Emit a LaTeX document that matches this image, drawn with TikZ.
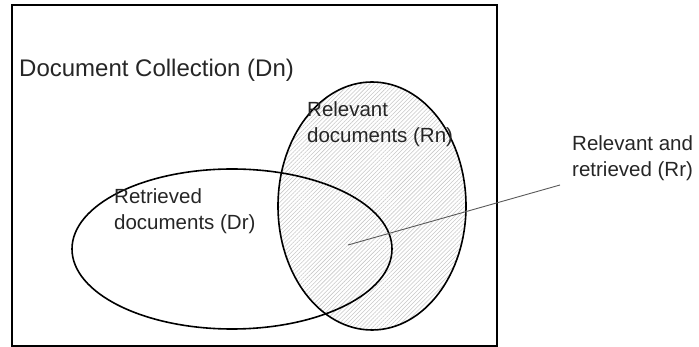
\documentclass[tikz,border=0pt]{standalone}
\usepackage{fontspec}
\setmainfont{Liberation Sans}
\usetikzlibrary{shapes.geometric, patterns.meta}

\begin{document}
\begin{tikzpicture}[x=1pt, y=-1pt,
        set/.style={ellipse, draw=black, line width=1.6pt, inner sep=0pt},
        big_label/.style={font=\fontsize{24}{28}\selectfont, anchor=base west, inner sep=0pt},
        set_label/.style={font=\fontsize{20.5}{26}\selectfont, align=left, anchor=base west, inner sep=0pt, color=black!85},
        pointer/.style={draw=black!65, line width=0.9pt}
    ]
    \useasboundingbox (0,0) rectangle (699,347);

    % Collection
    \draw[line width=1.5pt] (12,5) rectangle (497,346);
    \node[big_label, color=black!85] (dn) at (19,77) {Document Collection (Dn)};

    % Sets
    \node[set, pattern={Lines[angle=45, distance=2.9pt, line width=0.55pt]}, pattern color=black!22,
          minimum width=188pt, minimum height=248pt] (rn) at (372,206) {};
    \node[set, minimum width=320pt, minimum height=160pt] (dr) at (232,249) {};

    % Labels
    \node[set_label] (rnlabel) at (307,143) {Relevant\\documents (Rn)};
    \node[set_label] (drlabel) at (114,230) {Retrieved\\documents (Dr)};
    \node[set_label] (rrlabel) at (572,177) {Relevant and\\retrieved (Rr)};

    % Pointer
    \coordinate (rr) at (348,245);
    \coordinate (rrend) at (560,185);
    \draw[pointer] (rr) -- (rrend);
\end{tikzpicture}
\end{document}
